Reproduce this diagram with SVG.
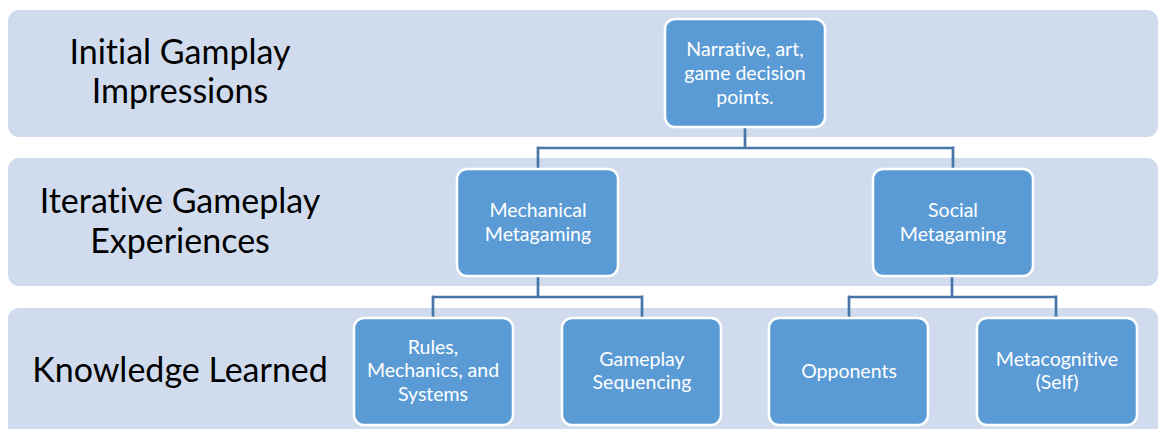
<svg xmlns="http://www.w3.org/2000/svg" width="1158" height="429" viewBox="0 0 1158 429">
  <style>
    text { font-variant-ligatures: none; font-feature-settings: "liga" 0, "clig" 0, "dlig" 0; text-rendering: optimizeSpeed; }
    .band { fill: #d0dcee; }
    .node rect { fill: #5b9bd5; stroke: #ffffff; stroke-width: 2.5; }
    .node text { fill: #ffffff; font-family: "Lato", "Open Sans", sans-serif; font-size: 19.5px; text-anchor: middle; }
    .label { fill: #000000; font-family: "Lato", "Open Sans", sans-serif; font-size: 34px; text-anchor: middle; }
    .conn { fill: none; stroke: #4677a8; stroke-width: 2.7; }
  </style>
  <rect width="1158" height="429" fill="#ffffff"/>

  <!-- level bands -->
  <g id="bands">
    <rect class="band" x="8" y="10" width="1150" height="127" rx="11"/>
    <rect class="band" x="8" y="158" width="1150" height="128" rx="11"/>
    <rect class="band" x="8" y="308" width="1150" height="135" rx="11"/>
  </g>

  <!-- level labels -->
  <g id="level-labels">
    <text class="label" x="180" y="64">Initial Gamplay</text>
    <text class="label" x="180" y="103">Impressions</text>
    <text class="label" x="180" y="213">Iterative Gameplay</text>
    <text class="label" x="180" y="253">Experiences</text>
    <text class="label" x="180" y="382">Knowledge Learned</text>
  </g>

  <!-- connectors -->
  <g id="connectors">
    <path class="conn" d="M745 127 V148 M538 148 H953 M538 146.6 V170 M953 146.6 V170"/>
    <path class="conn" d="M538 276 V297 M433 297 H642 M433 295.6 V318 M642 295.6 V318"/>
    <path class="conn" d="M952 276 V297 M849 297 H1056 M849 295.6 V318 M1056 295.6 V318"/>
  </g>

  <g id="node-narrative" class="node">
    <rect x="665" y="19" width="160" height="108" rx="10"/>
    <text x="745" y="56">Narrative, art,</text>
    <text x="745" y="80">game decision</text>
    <text x="745" y="104">points.</text>
  </g>

  <g id="node-mechanical" class="node">
    <rect x="457" y="169" width="161" height="107" rx="10"/>
    <text x="538" y="217">Mechanical</text>
    <text x="538" y="241">Metagaming</text>
  </g>

  <g id="node-social" class="node">
    <rect x="873" y="169" width="160" height="107" rx="10"/>
    <text x="953" y="217">Social</text>
    <text x="953" y="241">Metagaming</text>
  </g>

  <g id="node-rules" class="node">
    <rect x="354" y="318" width="159" height="107" rx="10"/>
    <text x="433" y="354">Rules,</text>
    <text x="433" y="377">Mechanics, and</text>
    <text x="433" y="401">Systems</text>
  </g>

  <g id="node-sequencing" class="node">
    <rect x="562" y="318" width="159" height="107" rx="10"/>
    <text x="642" y="366">Gameplay</text>
    <text x="642" y="389">Sequencing</text>
  </g>

  <g id="node-opponents" class="node">
    <rect x="769" y="318" width="159" height="107" rx="10"/>
    <text x="849" y="378">Opponents</text>
  </g>

  <g id="node-metacognitive" class="node">
    <rect x="977" y="318" width="160" height="107" rx="10"/>
    <text x="1057" y="366">Metacognitive</text>
    <text x="1057" y="389">(Self)</text>
  </g>
</svg>
